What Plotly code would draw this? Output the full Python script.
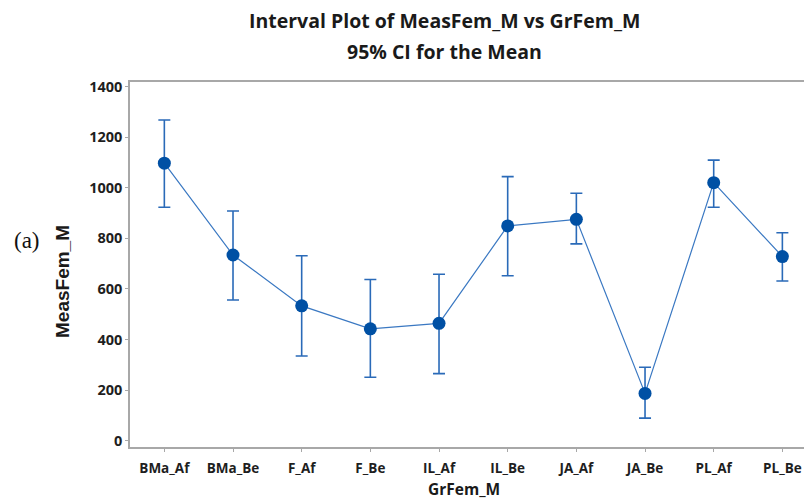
import plotly.graph_objects as go

categories = ["BMa_Af", "BMa_Be", "F_Af", "F_Be", "IL_Af", "IL_Be", "JA_Af", "JA_Be", "PL_Af", "PL_Be"]
means = [1097, 734, 533, 442, 464, 849, 875, 187, 1020, 728]
lower = [923, 556, 335, 251, 265, 652, 778, 89, 923, 631]
upper = [1268, 908, 731, 637, 658, 1044, 978, 290, 1109, 822]
y_ticks = [0, 200, 400, 600, 800, 1000, 1200, 1400]

x_idx = list(range(len(categories)))
err_plus = [u - m for u, m in zip(upper, means)]
err_minus = [m - l for m, l in zip(means, lower)]

W, H = 804, 499
L, R, T, B = 130, 0, 82, 52

fig = go.Figure()
fig.add_trace(go.Scatter(
    x=x_idx, y=means, mode="lines+markers",
    line=dict(color="#3a78c2", width=1.2),
    marker=dict(color="#0050a4", size=13),
    error_y=dict(type="data", symmetric=False, array=err_plus, arrayminus=err_minus,
                 color="#2a6ab8", thickness=1.6, width=6),
    showlegend=False,
))

fig.update_layout(
    width=W, height=H,
    margin=dict(l=L, r=R, t=T, b=B),
    paper_bgcolor="white", plot_bgcolor="white",
    xaxis=dict(
        tickmode="array", tickvals=x_idx, ticktext=categories,
        range=[-0.5, 9.315], showgrid=False, zeroline=False,
        showline=True, linecolor="#a8a8a8", linewidth=1.5, mirror=True,
        ticks="outside", ticklen=3, tickcolor="#a8a8a8", ticklabelstandoff=5,
        tickfont=dict(family="Open Sans, sans-serif", size=13.5, color="#1e1e1e", weight="bold"),
    ),
    yaxis=dict(
        tickmode="array", tickvals=y_ticks, ticktext=[str(v) for v in y_ticks],
        range=[-25, 1418], showgrid=False, zeroline=False,
        showline=True, linecolor="#a8a8a8", linewidth=1.5,
        ticks="outside", ticklen=3, tickcolor="#a8a8a8",
        tickfont=dict(family="Open Sans, sans-serif", size=14.5, color="#1e1e1e", weight="bold"),
    ),
    annotations=[
        dict(text="<b>Interval Plot of MeasFem_M vs GrFem_M</b>", x=444, y=H - 20,
             xref="paper", yref="paper", showarrow=False, xanchor="center", yanchor="middle",
             font=dict(family="Open Sans, sans-serif", size=19.5, color="#1a1a1a")),
        dict(text="<b>95% CI for the Mean</b>", x=444, y=H - 52,
             xref="paper", yref="paper", showarrow=False, xanchor="center", yanchor="middle",
             font=dict(family="Open Sans, sans-serif", size=19.5, color="#1a1a1a")),
        dict(text="<b>MeasFem_M</b>", x=62, y=H - 282, textangle=-90,
             xref="paper", yref="paper", showarrow=False, xanchor="center", yanchor="middle",
             font=dict(family="Liberation Sans, Arial, sans-serif", size=19, color="#1a1a1a")),
        dict(text="<b>GrFem_M</b>", x=464, y=H - 489,
             xref="paper", yref="paper", showarrow=False, xanchor="center", yanchor="middle",
             font=dict(family="Open Sans, sans-serif", size=15.5, color="#1a1a1a")),
        dict(text="(a)", x=27, y=H - 240,
             xref="paper", yref="paper", showarrow=False, xanchor="center", yanchor="middle",
             font=dict(family="Liberation Serif, serif", size=23, color="#111111")),
    ],
)

for a in fig.layout.annotations:
    a.x = (a.x - L) / (W - L - R)
    a.y = (a.y - B) / (H - T - B)

fig.write_html("out.html")
